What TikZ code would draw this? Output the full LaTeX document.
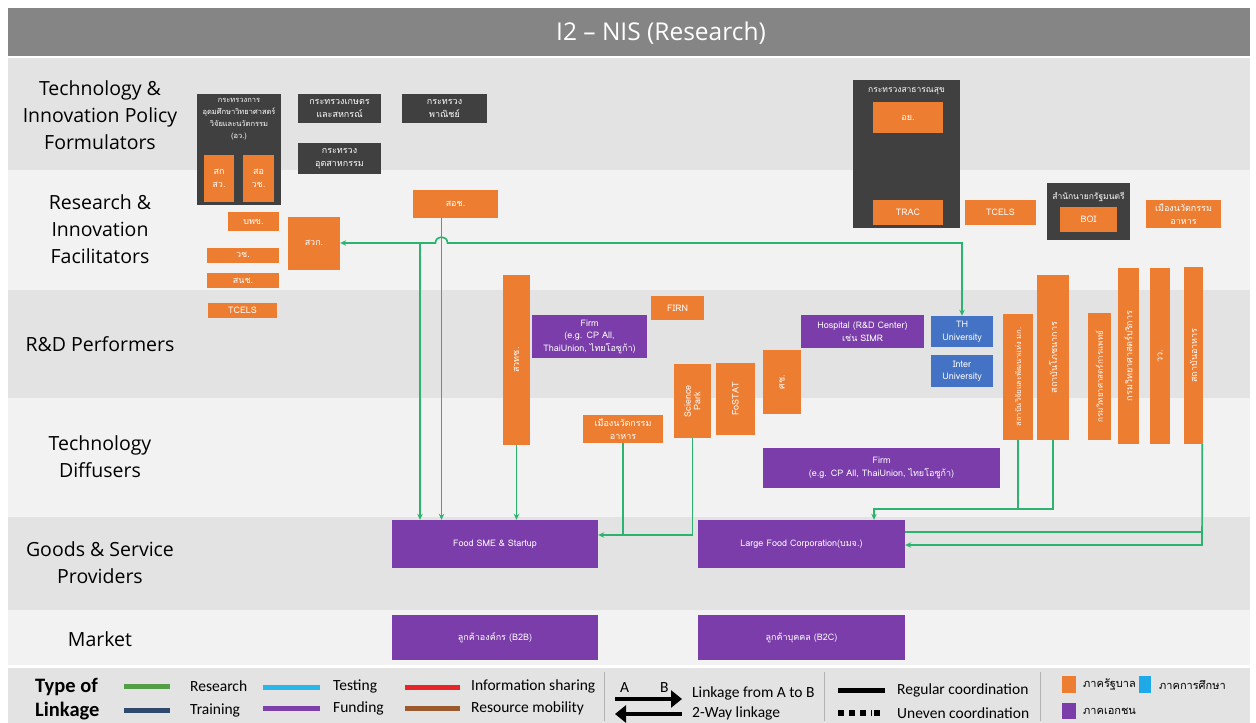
\documentclass[tikz,border=0pt]{standalone}
\usepackage{fontspec}
\setmainfont{Carlito}
\newfontfamily\labelfont{Open Sans}
\newfontfamily\thaifont[Script=Thai]{Loma}
\usepackage{graphicx}
\usetikzlibrary{
  arrows.meta,
  positioning,
  calc
}
\definecolor{govorange}{HTML}{ED7D31}
\definecolor{privpurple}{HTML}{7A3DAA}
\definecolor{edublue}{HTML}{4472C4}
\definecolor{ministry}{HTML}{404040}
\definecolor{linkgreen}{HTML}{2DB370}
\definecolor{banddark}{HTML}{E3E3E3}
\definecolor{bandlight}{HTML}{F2F2F2}
\definecolor{titlegrey}{HTML}{858585}
\definecolor{lgresearch}{HTML}{559E48}
\definecolor{lgtraining}{HTML}{2F4A6D}
\definecolor{lgtesting}{HTML}{29B6E8}
\definecolor{lgfunding}{HTML}{7D3FA8}
\definecolor{lginfo}{HTML}{E8242A}
\definecolor{lgresource}{HTML}{9A5A2E}
\definecolor{lgedu}{HTML}{1FA9E8}
\tikzset{
  wh/.style 2 args={minimum width=#1pt, minimum height=#2pt},
  orgbox/.style={
    rectangle, inner sep=1pt, align=center, text=white,
    font=\thaifont\fontsize{9}{12.5}\selectfont
  },
  govbox/.style={orgbox, fill=govorange},
  privbox/.style={orgbox, fill=privpurple},
  edubox/.style={orgbox, fill=edublue},
  minbox/.style={orgbox, fill=ministry},
  mintext/.style={
    align=center, text=white, inner sep=0pt,
    font=\thaifont\fontsize{8.5}{12}\selectfont
  },
  rowlabel/.style={
    align=center, inner sep=0pt,
    font=\labelfont\fontsize{19.5}{27}\selectfont
  },
  legtext/.style={
    anchor=west, inner sep=0pt, font=\fontsize{15.5}{17}\selectfont
  },
  link/.style={draw=linkgreen, line width=1.6pt},
  tip/.style={-{Stealth[length=6pt,width=5.5pt]}},
  swatch/.style={line width=5pt, draw=#1},
}

\begin{document}
\begin{tikzpicture}[x=1pt,y=-1pt]
  \useasboundingbox (0,0) rectangle (1256,723);

  % bands
  \fill[titlegrey] (8,8) rectangle (1250,56);
  \fill[banddark]  (8,58) rectangle (1250,170);
  \fill[bandlight] (8,170) rectangle (1250,290);
  \fill[banddark]  (8,290) rectangle (1250,398);
  \fill[bandlight] (8,398) rectangle (1250,517);
  \fill[banddark]  (8,517) rectangle (1250,610);
  \fill[bandlight] (8,610) rectangle (1250,665);
  \fill[banddark]  (8,668) rectangle (1250,723);

  \node[text=white, font=\labelfont\fontsize{24.5}{28}\selectfont] (title) at (661,33) {I2 – NIS (Research)};

  \node[rowlabel] (r1) at (100,115) {Technology \&\\Innovation Policy\\Formulators};
  \node[rowlabel] (r2) at (100,229) {Research \&\\Innovation\\Facilitators};
  \node[rowlabel] (r3) at (100,344) {R\&D Performers};
  \node[rowlabel] (r4) at (100,457) {Technology\\Diffusers};
  \node[rowlabel] (r5) at (100,563) {Goods \& Service\\Providers};
  \node[rowlabel] (r6) at (100,639) {Market};

  % policy formulators
  \node[minbox, wh={84}{111}] (mhesi) at (239,149.5) {};
  \node[mintext, font=\thaifont\fontsize{7.5}{12}\selectfont] (mhesit) at (239,119) {กระทรวงการ\\อุดมศึกษาวิทยาศาสตร์\\วิจัยและนวัตกรรม\\(อว.)};
  \node[govbox, wh={30}{47}] (tsri) at (219,178.5) {สก\\สว.};
  \node[govbox, wh={31}{47}] (nxpo) at (258.5,178.5) {สอ\\วช.};
  \node[minbox, wh={83}{29}] (moac) at (339.5,108.5) {กระทรวงเกษตร\\และสหกรณ์};
  \node[minbox, wh={85}{29}] (moc) at (444.5,108.5) {กระทรวง\\พาณิชย์};
  \node[minbox, wh={83}{31}] (moi) at (339.5,158.5) {กระทรวง\\อุตสาหกรรม};
  \node[minbox, wh={107}{148}] (moph) at (906.5,154) {};
  \node[mintext, below=7pt of moph.north] (mopht) {กระทรวงสาธารณสุข};
  \node[govbox, wh={70}{31}] (fda) at (908,117.5) {อย.};
  \node[govbox, wh={70}{25}] (trac) at (908,212.5) {TRAC};
  \node[govbox, wh={71}{25}] (tcelsa) at (1000.5,212.5) {TCELS};
  \node[minbox, wh={83}{57}] (opm) at (1088.5,211.5) {};
  \node[mintext, below=9pt of opm.north] (opmt) {สำนักนายกรัฐมนตรี};
  \node[govbox, wh={57}{25}] (boi) at (1088.5,219) {BOI};
  \node[govbox, wh={75}{28}] (fia) at (1183.5,214) {เมืองนวัตกรรม\\อาหาร};

  % facilitators
  \node[govbox, wh={85}{28}] (soc) at (455.5,204) {สอช.};
  \node[govbox, wh={51}{19}] (pmuc) at (253.5,221.5) {บพข.};
  \node[govbox, wh={52}{53}] (arda) at (314,243) {สวก.};
  \node[govbox, wh={72}{15}] (nrct) at (243,255) {วช.};
  \node[govbox, wh={72}{15}] (nia) at (243,280.5) {สนช.};
  \node[govbox, wh={69}{15}] (tcelsb) at (242.5,310.5) {TCELS};

  % R&D performers
  \node[govbox, wh={27}{170}] (nstda) at (516.5,360) {\rotatebox{90}{สวทช.}};
  \node[privbox, wh={115}{43}] (firma) at (589.5,336.5) {Firm\\(e.g. CP All,\\ThaiUnion, ไทยโอซูก้า)};
  \node[govbox, wh={53}{24}] (firn) at (677.5,308) {FIRN};
  \node[govbox, wh={37}{74}] (sp) at (692.5,401) {\rotatebox{90}{\shortstack{Science\\Park}}};
  \node[govbox, wh={39}{72}] (fostat) at (735.5,399) {\rotatebox{90}{FoSTAT}};
  \node[govbox, wh={38}{64}] (tmc) at (782,382) {\rotatebox{90}{ศช.}};
  \node[privbox, wh={123}{33}] (hosp) at (862.5,331.5) {Hospital (R\&D Center)\\เช่น SIMR};
  \node[edubox, wh={62}{31}] (thu) at (962,331.5) {TH\\University};
  \node[edubox, wh={62}{32}] (inu) at (962,371) {Inter\\University};
  \node[govbox, wh={30}{126}, font=\thaifont\fontsize{7.5}{10}\selectfont] (ifrpd) at (1018,377) {\rotatebox{90}{สถาบันวิจัยและพัฒนาแห่ง มก.}};
  \node[govbox, wh={32}{165}] (inmu) at (1053,357.5) {\rotatebox{90}{สถาบันโภชนาการ}};
  \node[govbox, wh={23}{127}, font=\thaifont\fontsize{8}{10}\selectfont] (dmsc) at (1099.5,376.5) {\rotatebox{90}{กรมวิทยาศาสตร์การแพทย์}};
  \node[govbox, wh={21}{176}] (dss) at (1128.5,356) {\rotatebox{90}{กรมวิทยาศาสตร์บริการ}};
  \node[govbox, wh={20}{176}] (tistr) at (1160,356) {\rotatebox{90}{วว.}};
  \node[govbox, wh={19}{177}] (nfi) at (1193.5,355.5) {\rotatebox{90}{สถาบันอาหาร}};

  % technology diffusers
  \node[govbox, wh={80}{28}] (fib) at (623,429) {เมืองนวัตกรรม\\อาหาร};
  \node[privbox, wh={237}{40}] (firmb) at (881.5,468) {Firm\\(e.g. CP All, ThaiUnion, ไทยโอซูก้า)};

  % goods & service providers, market
  \node[privbox, wh={206}{48}] (sme) at (495,544) {Food SME \& Startup};
  \node[privbox, wh={207}{48}] (lfc) at (801.5,544) {Large Food Corporation(บมจ.)};
  \node[privbox, wh={206}{45}] (b2b) at (495,637.5) {ลูกค้าองค์กร (B2B)};
  \node[privbox, wh={207}{45}] (b2c) at (801.5,637.5) {ลูกค้าบุคคล (B2C)};

  % research linkages
  \coordinate (socdrop) at ($(soc.south)+(-14,0)$);
  \coordinate (hopl) at ($(socdrop |- arda.east)+(-6,0)$);
  \coordinate (hopr) at ($(socdrop |- arda.east)+(6,0)$);
  \coordinate (jn) at (420,243);
  \draw[link, {Stealth[length=6pt,width=5.5pt]}-{Stealth[length=6pt,width=5.5pt]}]
    (arda.east) -- (hopl) .. controls ($(hopl)+(0,-8)$) and ($(hopr)+(0,-8)$) .. (hopr)
    -- (thu.north |- arda.east) -- (thu.north);
  \draw[link, tip] (jn) -- (jn |- sme.north);
  \draw[link, tip] (socdrop) -- (socdrop |- sme.north);
  \draw[link, tip] (nstda.south) -- (nstda.south |- sme.north);
  \coordinate (spj) at (693,535);
  \draw[link, tip] (sp.south) -- (sp.south |- spj) -- (sme.east |- spj);
  \draw[link] (fib.south) -- (fib.south |- spj);
  \coordinate (rj) at (874,509);
  \draw[link, tip] (inmu.south) -- (inmu.south |- rj) -- (rj) -- (rj |- lfc.north);
  \draw[link] (ifrpd.south) -- (ifrpd.south |- rj);
  \coordinate (nfd) at ($(nfi.south east)+(-1,0)$);
  \coordinate (nr1) at (1202,532);
  \coordinate (nr2) at (1202,545);
  \draw[link, tip] (nfd) -- (nr2) -- (lfc.east |- nr2);
  \draw[link] (nr1) -- (lfc.east |- nr1);

  % legend
  \node[anchor=west, align=left, inner sep=0pt, font=\bfseries\fontsize{20.5}{24}\selectfont] (ltype) at (35,699) {Type of\\Linkage};
  \draw[swatch=lgresearch] (124,686) -- (170,686);
  \node[legtext] (lres) at (190,686) {Research};
  \draw[swatch=lgtraining] (124,710) -- (170,710);
  \node[legtext] (ltra) at (190,710) {Training};
  \draw[swatch=lgtesting] (263,687) -- (320,687);
  \node[legtext] (ltes) at (333,686) {Testing};
  \draw[swatch=lgfunding] (263,708) -- (320,708);
  \node[legtext] (lfun) at (333,708) {Funding};
  \draw[swatch=lginfo] (405,687) -- (460,687);
  \node[legtext] (linf) at (471,686) {Information sharing};
  \draw[swatch=lgresource] (405,708) -- (460,708);
  \node[legtext] (lrsc) at (471,708) {Resource mobility};
  \draw[gray!60, line width=1pt] (604,672) -- (604,721);
  \node[legtext] (la) at (620,688) {A};
  \node[legtext] (lb) at (660,688) {B};
  \draw[line width=4.5pt, -{Triangle[length=11pt,width=17pt]}] (615,699) -- (682,699);
  \draw[line width=4.5pt, {Triangle[length=11pt,width=17pt]}-] (615,714) -- (682,714);
  \node[legtext] (lab) at (692,693) {Linkage from A to B};
  \node[legtext] (ltwo) at (692,713) {2-Way linkage};
  \draw[gray!60, line width=1pt] (824,672) -- (824,721);
  \draw[line width=5pt] (838,690) -- (885,690);
  \node[legtext] (lreg) at (897,690) {Regular coordination};
  \draw[line width=6pt, dash pattern=on 6pt off 5pt] (838,713) -- (872,713);
  \draw[line width=6pt] (877,710) -- (877,716);
  \node[legtext] (luneven) at (897,713) {Uneven coordination};
  \draw[gray!60, line width=1pt] (1040,672) -- (1040,721);
  \fill[govorange] (1062,676) rectangle (1076,693);
  \node[legtext, font=\thaifont\fontsize{11}{13}\selectfont] (lgov) at (1083,685) {ภาครัฐบาล};
  \fill[lgedu] (1139,676) rectangle (1151,693);
  \node[legtext, font=\thaifont\fontsize{11}{13}\selectfont] (ledu) at (1159,685) {ภาคการศึกษา};
  \fill[privpurple] (1062,703) rectangle (1076,719);
  \node[legtext, font=\thaifont\fontsize{11}{13}\selectfont] (lpriv) at (1083,711) {ภาคเอกชน};
\end{tikzpicture}
\end{document}
